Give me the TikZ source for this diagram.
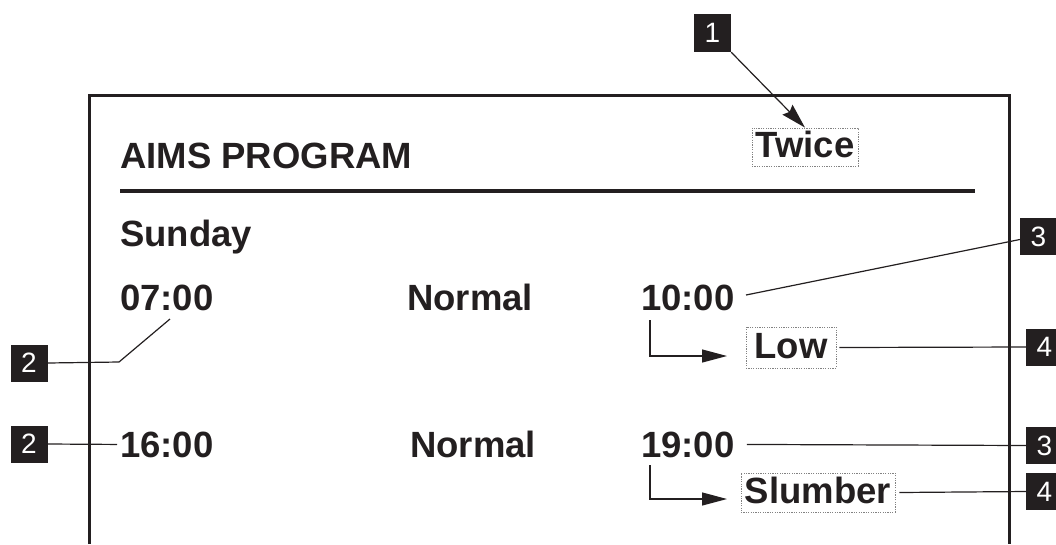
\documentclass[tikz,border=0pt]{standalone}
\usepackage{fontspec}
\setmainfont{Liberation Sans}
\usetikzlibrary{arrows.meta}
\definecolor{ink}{RGB}{35,31,32}
\definecolor{dotgray}{RGB}{130,130,130}
\tikzset{
  txt/.style={font=\fontsize{36.5}{40}\selectfont\bfseries, text=ink, inner sep=0pt, anchor=base west},
  dotbox/.style={font=\fontsize{36.5}{40}\selectfont\bfseries, text=ink, draw=dotgray, line width=0.8pt,
     dash pattern=on 1.2pt off 1.2pt, inner sep=0pt, text height=26pt, text depth=5pt, anchor=center},
  callout/.style={fill=ink, text=white, font=\fontsize{28}{30}\selectfont, minimum width=37pt,
     minimum height=37pt, inner sep=0pt, anchor=center},
  lead/.style={draw=ink, line width=1.2pt},
  arr/.style={draw=ink, line width=1.2pt, -{Stealth[length=25pt,width=14pt,inset=3pt]}},
  elbow/.style={draw=ink, line width=1.2pt, -{Triangle[length=25pt,width=13pt]}},
}
\begin{document}
\begin{tikzpicture}[x=1pt,y=-1pt]
\useasboundingbox (0,0) rectangle (1056,544);
% frame
\draw[ink, line width=3pt] (89,544) -- (89,95) -- (1009,95) -- (1009,544);
\draw[ink, line width=4.5pt] (120,191) -- (975,191);
% texts
\node[txt] (title) at (120,168) {AIMS PROGRAM};
\node[txt] (sun) at (120,246) {Sunday};
\node[txt] (t07) at (120,310) {07:00};
\node[txt] (n1) at (407,310) {Normal};
\node[txt] (t10) at (641,310) {10:00};
\node[txt] (t16) at (120,457) {16:00};
\node[txt] (n2) at (410,457) {Normal};
\node[txt] (t19) at (641,457) {19:00};
% dotted boxes
\node[dotbox, minimum width=106pt, minimum height=38pt] (twice) at (805,147) {Twice};
\node[dotbox, minimum width=90pt, minimum height=41pt] (low) at (791,347.5) {Low};
\node[dotbox, minimum width=154pt, minimum height=39pt] (slumber) at (818,492.5) {Slumber};
% callouts
\node[callout, minimum height=38pt] (c1) at (712.5,33) {1};
\node[callout] (c2a) at (29,363) {2};
\node[callout] (c2b) at (29,444) {2};
\node[callout] (c3a) at (1038.5,236.5) {3};
\node[callout] (c4a) at (1044.5,347) {4};
\node[callout] (c3b) at (1044.5,445.5) {3};
\node[callout] (c4b) at (1044.5,491.5) {4};
% helper coordinates
\coordinate (k2a) at (119,362);
\coordinate (k07) at (170,319);
\coordinate (k3a) at (746,295);
\coordinate (e1s) at (650,320);
\coordinate (e1t) at (727,356);
\coordinate (e2s) at (650,465);
\coordinate (e2t) at (727,499);
% connectors
\draw[arr] (c1.south east) -- (twice.north);
\draw[lead] (c2a.east) -- (k2a) -- (k07);
\draw[lead] (c2b.east) -- ([xshift=-3pt]t16.west);
\draw[lead] (k3a) -- ([yshift=-3pt]c3a.west);
\draw[lead] ([xshift=12pt]t19.east) -- (c3b.west);
\draw[lead] ([xshift=3pt]low.east) -- (c4a.west);
\draw[lead] ([xshift=4pt]slumber.east) -- (c4b.west);
\draw[elbow] (e1s) |- (e1t);
\draw[elbow] (e2s) |- (e2t);
\end{tikzpicture}
\end{document}
